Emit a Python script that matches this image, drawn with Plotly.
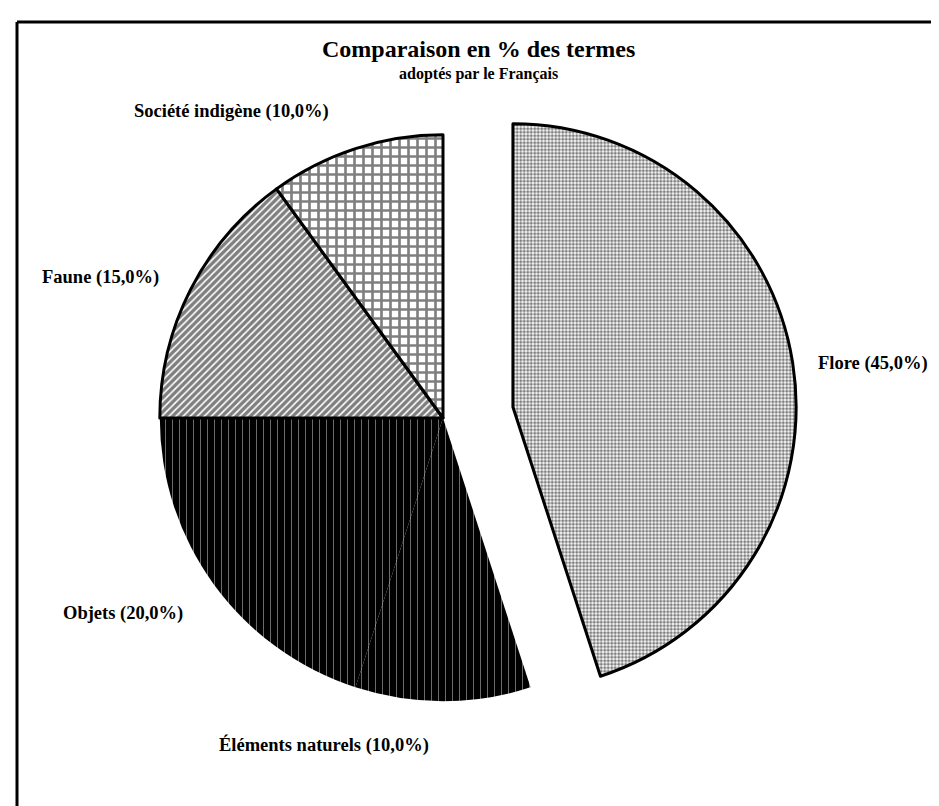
import plotly.graph_objects as go

# Data
categories = ["Flore", "Éléments naturels", "Objets", "Faune", "Société indigène"]
values = [45.0, 10.0, 20.0, 15.0, 10.0]
pulls = [0.25, 0, 0, 0, 0]

# Styles
pat_shapes = [".", "|", "|", "/", "+"]
pat_fg = ["#000000", "#ffffff", "#ffffff", "#000000", "#000000"]
pat_bg = ["#ffffff", "#000000", "#000000", "#ffffff", "#ffffff"]
pat_size = [3.5, 7, 7, 5, 9]
pat_solid = [0.6, 0.12, 0.12, 0.68, 0.5]
line_widths = [3, 0, 0, 3, 3]

W, H = 939, 806
FONT = "Liberation Serif"

fig = go.Figure()
fig.add_trace(go.Pie(
    labels=categories,
    values=values,
    sort=False,
    direction="clockwise",
    rotation=0,
    pull=pulls,
    textinfo="none",
    hoverinfo="label+percent",
    showlegend=False,
    marker=dict(
        colors=pat_bg,
        line=dict(color="black", width=line_widths),
        pattern=dict(shape=pat_shapes, fgcolor=pat_fg, bgcolor=pat_bg,
                     size=pat_size, solidity=pat_solid, fillmode="overlay"),
    ),
    domain=dict(x=[81 / W, 789 / W], y=[1 - 764 / H, 1 - 56 / H]),
))

def fmt(v):
    return f"{v:.1f}".replace(".", ",") + "%"

# label positions (pixels) for each category
label_pos = {
    "Flore": (865, 355),
    "Éléments naturels": (316, 737),
    "Objets": (115, 605),
    "Faune": (92, 269),
    "Société indigène": (223, 103),
}

annotations = []
for cat, v in zip(categories, values):
    px, py = label_pos[cat]
    annotations.append(dict(
        x=px / W, y=1 - py / H, xref="paper", yref="paper",
        text=f"<b>{cat} ({fmt(v)})</b>", showarrow=False,
        font=dict(family=FONT, size=18.5, color="black"),
        xanchor="center", yanchor="middle",
    ))

annotations.append(dict(x=470 / W, y=1 - 41 / H, xref="paper", yref="paper",
                        text="<b>Comparaison en % des termes</b>", showarrow=False,
                        font=dict(family=FONT, size=24, color="black"),
                        xanchor="center", yanchor="middle"))
annotations.append(dict(x=470 / W, y=1 - 66 / H, xref="paper", yref="paper",
                        text="<b>adoptés par le Français</b>", showarrow=False,
                        font=dict(family=FONT, size=16, color="black"),
                        xanchor="center", yanchor="middle"))

shapes = [
    dict(type="line", xref="paper", yref="paper", x0=9 / W, x1=1.0, y0=1 - 14 / H, y1=1 - 14 / H,
         line=dict(color="black", width=3)),
    dict(type="line", xref="paper", yref="paper", x0=9 / W, x1=9 / W, y0=0, y1=1 - 14 / H,
         line=dict(color="black", width=3)),
]

fig.update_layout(
    width=W, height=H,
    margin=dict(l=0, r=0, t=0, b=0),
    paper_bgcolor="white", plot_bgcolor="white",
    annotations=annotations, shapes=shapes,
    font=dict(family=FONT),
)

fig.write_html("out.html")
